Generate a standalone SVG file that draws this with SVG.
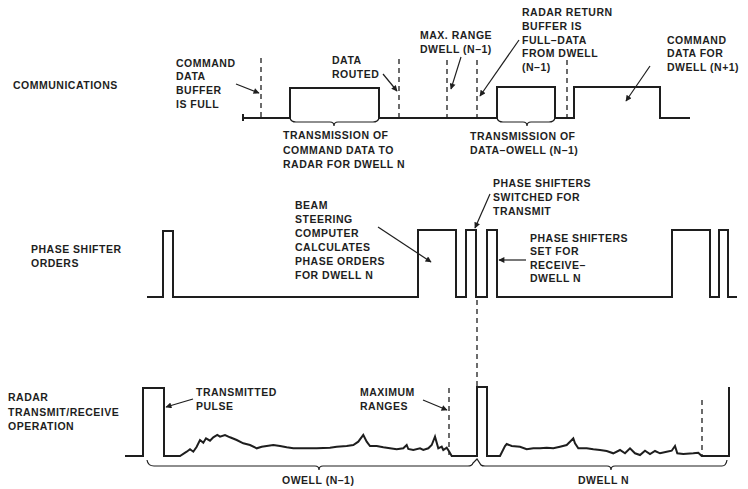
<svg xmlns="http://www.w3.org/2000/svg" width="748" height="489" viewBox="0 0 748 489">
<defs>
<style>
text{font-family:"Liberation Sans",Arial,sans-serif;font-weight:bold;font-size:10.5px;letter-spacing:0.5px;fill:#1e1e1e}
.sig{fill:none;stroke:#1e1e1e;stroke-width:2;stroke-linejoin:miter}
.dash{fill:none;stroke:#1e1e1e;stroke-width:1.3;stroke-dasharray:5,4}
.brace{fill:none;stroke:#1e1e1e;stroke-width:1.2}
.lead{fill:none;stroke:#1e1e1e;stroke-width:1.2;marker-end:url(#ah)}
</style>
<marker id="ah" viewBox="0 0 10 10" refX="9" refY="5" markerWidth="8" markerHeight="6" markerUnits="userSpaceOnUse" orient="auto">
<path d="M0,0 L10,5 L0,10 Z" fill="#1e1e1e"/>
</marker>
</defs>
<rect width="748" height="489" fill="#ffffff"/>

<g id="row-labels">
<text x="13" y="89">COMMUNICATIONS</text>
<text x="31" y="253">PHASE SHIFTER</text>
<text x="31" y="267">ORDERS</text>
<text x="8" y="401">RADAR</text>
<text x="8" y="416">TRANSMIT/RECEIVE</text>
<text x="8" y="430">OPERATION</text>
</g>

<g id="communications">
<path class="sig" d="M243,114 V121 M243,118 H290 V88 H379 V118 H497 V87 H555 V118 H574 V87 H660 V118 H690"/>
<path class="dash" d="M261,58 V118 M399,59 V118 M447,60 V118 M477,60 V118 M567,60 V118"/>
<path class="brace" d="M290,118 q1,4 6,4 H330 q4,0 4,4 q0,-4 4,-4 H373 q5,0 6,-4"/>
<path class="brace" d="M497,118 q1,4 6,4 H523 q4,0 4,4 q0,-4 4,-4 H549 q5,0 6,-4"/>
</g>

<g id="phase-shifter-orders">
<path class="sig" d="M147,297 H163 V231 H173 V297 H418 V230 H456 V297 H466 V230 H476 V297 H487 V230 H497 V297 H672 V230 H710 V297 H719 V230 H728 V297 H737"/>
<path class="dash" d="M477,300 V387"/>
</g>

<g id="radar-operation">
<path class="sig" d="M125,456 H143 V388 H164 V456 H180 L186.7,451.7 L190,449.3 L193.3,451.7 L196.7,446.7 L200,440 L203.3,442.7 L206,438.3 L210,440.7 L213.3,437.3 L217.3,435 L220,436.7 L225,435 L230,437.3 L236.7,440 L243.3,443.3 L250,445 L256.7,448.3 L261.7,446.7 L266.7,446 L273.3,445 L280,446 L286.7,447.3 L293.3,448.3 L303.3,448.3 L316.7,448.3 L330,447.7 L336.7,446.7 L346.7,446 L353.3,445 L358.3,441.7 L363.3,435 L366.7,441.7 L370,446 L376.7,446 L383.3,447.3 L390,448.3 L396.7,449.3 L403.3,448.3 L406.7,445 L408.3,449 L413.3,450 L420,448.3 L423.3,450 L428.3,448.3 L431.7,445 L435,436.7 L438.3,448.3 L441.7,446.7 L443.3,450 L446.7,447.7 L449.3,451.7 L451.7,456 H477 V387 H487 V456 H500 L505,446 L506.7,444 L511.7,446 L520,446.7 L526.7,449.3 L533.3,448.3 L540,448.3 L546.7,447.7 L553.3,448.3 L560,446.7 L566.7,445 L570,441.7 L573.3,438.3 L575,443.3 L578.3,448.3 L586.7,448.3 L593.3,449.3 L600,450 L606.7,451 L613.3,453.3 L620,450 L625,453.3 L630,448.3 L635,453.3 L640,455 L645,450.7 L650,454 L655,451 L660,453.3 L666.7,451.7 L671.7,450.7 L675,446 L677.3,453.3 L683.3,454 L693.3,453.3 L698.3,452.7 L701.7,456 H729 V387"/>
<path class="dash" d="M449,388 V455 M702,400 V455"/>
<path class="brace" d="M147,460 q1,6 7,6 H315 q4,0 4,4 q0,-4 4,-4 H468 q4,0 5,-3 L477,459 L481,465 q1,1 4,1 H607 q4,0 4,4 q0,-4 4,-4 H722 q4,0 5,-6"/>
</g>

<g id="annotations">
<g id="note-buffer-full">
<text x="176" y="67">COMMAND</text>
<text x="176" y="80">DATA</text>
<text x="176" y="94">BUFFER</text>
<text x="176" y="108">IS FULL</text>
</g>
<g id="note-data-routed">
<text x="332" y="64">DATA</text>
<text x="332" y="78">ROUTED</text>
</g>
<g id="note-tx-command">
<text x="283" y="139">TRANSMISSION OF</text>
<text x="283" y="154">COMMAND DATA TO</text>
<text x="283" y="168">RADAR FOR DWELL N</text>
</g>
<g id="note-max-range">
<text x="420" y="39">MAX. RANGE</text>
<text x="420" y="53">DWELL (N–1)</text>
</g>
<g id="note-radar-return">
<text x="522" y="16">RADAR RETURN</text>
<text x="522" y="30">BUFFER IS</text>
<text x="522" y="44">FULL–DATA</text>
<text x="522" y="57">FROM DWELL</text>
<text x="522" y="71">(N–1)</text>
</g>
<g id="note-tx-data">
<text x="470" y="140">TRANSMISSION OF</text>
<text x="470" y="154">DATA–OWELL (N–1)</text>
</g>
<g id="note-command-next">
<text x="667" y="44">COMMAND</text>
<text x="667" y="57">DATA FOR</text>
<text x="667" y="71">DWELL (N+1)</text>
</g>
<g id="note-beam-steering">
<text x="295" y="209">BEAM</text>
<text x="295" y="223">STEERING</text>
<text x="295" y="237">COMPUTER</text>
<text x="295" y="251">CALCULATES</text>
<text x="295" y="265">PHASE ORDERS</text>
<text x="295" y="279">FOR DWELL N</text>
</g>
<g id="note-switched">
<text x="493" y="187">PHASE SHIFTERS</text>
<text x="493" y="201">SWITCHED FOR</text>
<text x="493" y="215">TRANSMIT</text>
</g>
<g id="note-receive">
<text x="530" y="242">PHASE SHIFTERS</text>
<text x="530" y="255">SET FOR</text>
<text x="530" y="269">RECEIVE–</text>
<text x="530" y="282">DWELL N</text>
</g>
<g id="note-tx-pulse">
<text x="196" y="396">TRANSMITTED</text>
<text x="196" y="410">PULSE</text>
</g>
<g id="note-max-ranges">
<text x="360" y="396">MAXIMUM</text>
<text x="360" y="410">RANGES</text>
</g>
<g id="note-dwells">
<text x="282" y="484">OWELL (N–1)</text>
<text x="578" y="484">DWELL N</text>
</g>
</g>

<g id="connectors">
<path class="lead" d="M236,84 L259,93"/>
<path class="lead" d="M383,74 L397,91"/>
<path class="lead" d="M461,57 L451,89"/>
<path class="lead" d="M519,40 L480,96"/>
<path class="lead" d="M650,66 L626,101"/>
<path class="lead" d="M378,227 L431,262"/>
<path class="lead" d="M490,194 L475,228"/>
<path class="lead" d="M526,260 L499,260"/>
<path class="lead" d="M193,399 L166,407"/>
<path class="lead" d="M423,400 L447,410"/>
</g>
</svg>
